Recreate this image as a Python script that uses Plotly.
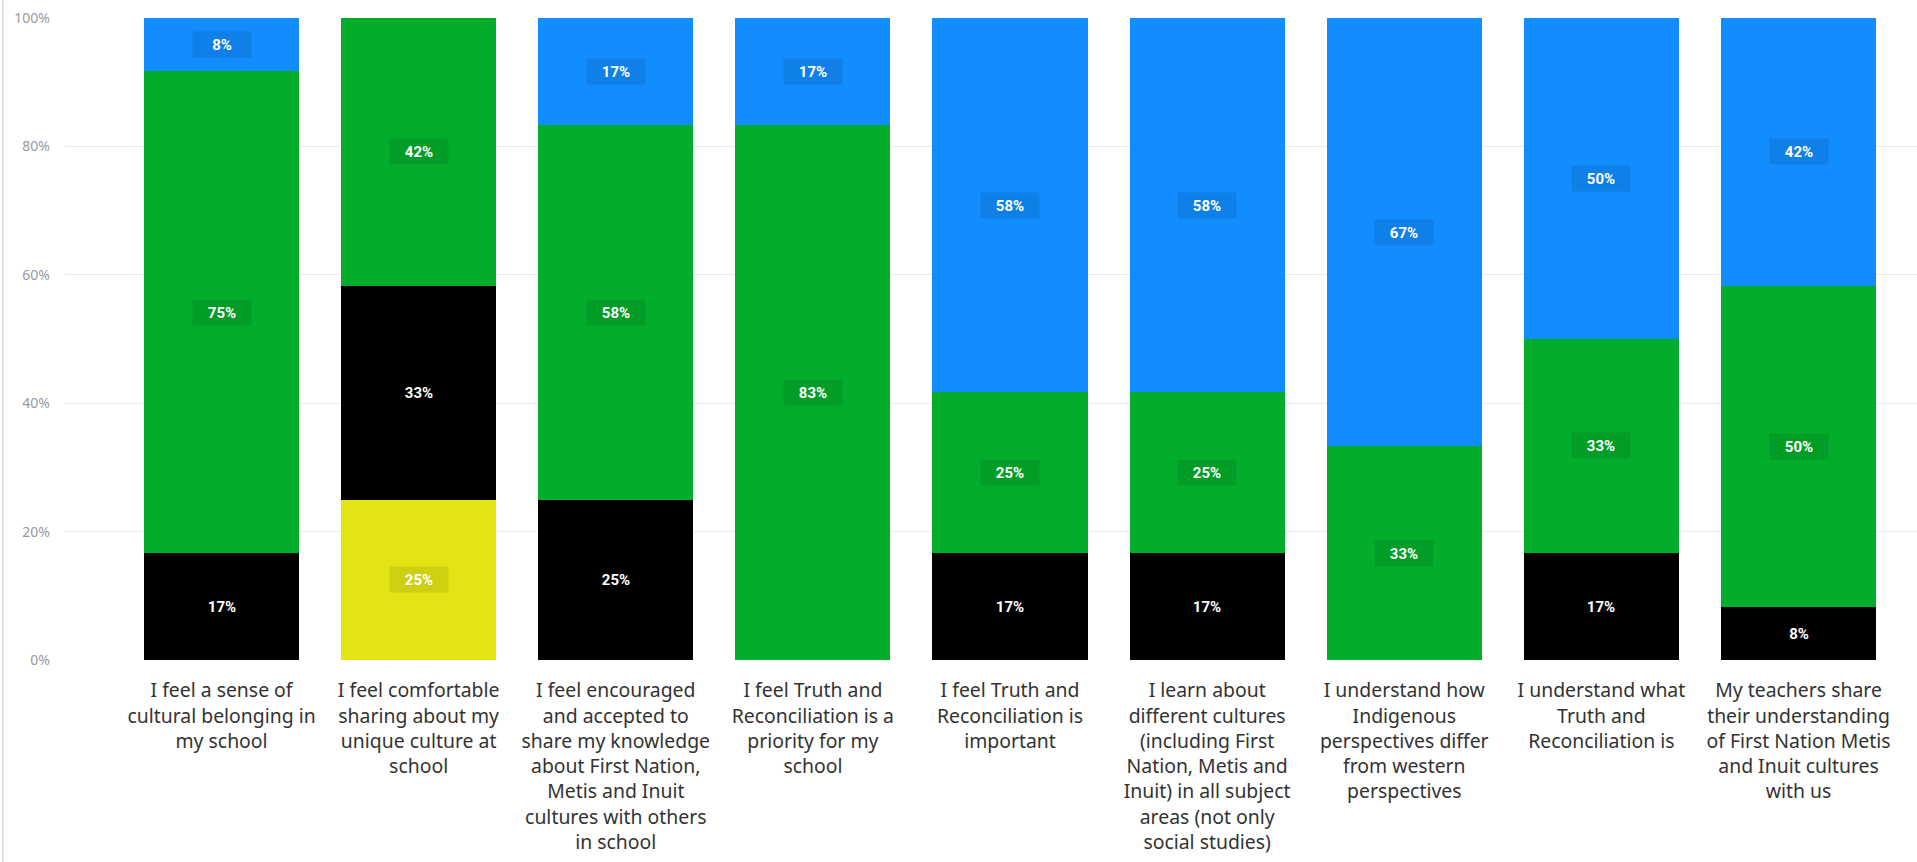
import plotly.graph_objects as go

categories = [
    "I feel a sense of<br>cultural belonging in<br>my school",
    "I feel comfortable<br>sharing about my<br>unique culture at<br>school",
    "I feel encouraged<br>and accepted to<br>share my knowledge<br>about First Nation,<br>Metis and Inuit<br>cultures with others<br>in school",
    "I feel Truth and<br>Reconciliation is a<br>priority for my<br>school",
    "I feel Truth and<br>Reconciliation is<br>important",
    "I learn about<br>different cultures<br>(including First<br>Nation, Metis and<br>Inuit) in all subject<br>areas (not only<br>social studies)",
    "I understand how<br>Indigenous<br>perspectives differ<br>from western<br>perspectives",
    "I understand what<br>Truth and<br>Reconciliation is",
    "My teachers share<br>their understanding<br>of First Nation Metis<br>and Inuit cultures<br>with us",
]

# percentages, bottom to top
yellow_vals = [0, 25.0, 0, 0, 0, 0, 0, 0, 0]
black_vals = [16.67, 33.33, 25.0, 0, 16.67, 16.67, 0, 16.67, 8.33]
green_vals = [75.0, 41.67, 58.33, 83.33, 25.0, 25.0, 33.33, 33.33, 50.0]
blue_vals = [8.33, 0, 16.67, 16.67, 58.33, 58.33, 66.67, 50.0, 41.67]

series_names = ["Strongly disagree", "Disagree", "Agree", "Strongly agree"]
series_vals = [yellow_vals, black_vals, green_vals, blue_vals]
series_colors = ["#E4E414", "#000000", "#02AD2B", "#118DFF"]

y_ticks = [0, 20, 40, 60, 80, 100]

fig = go.Figure()
for name, vals, col in zip(series_names, series_vals, series_colors):
    fig.add_trace(go.Bar(x=categories, y=vals, name=name, marker_color=col,
                         marker_line_width=0, showlegend=False, hoverinfo="skip"))

annotations = []
for i, cat in enumerate(categories):
    base = 0
    for vals in series_vals:
        v = vals[i]
        if v > 0:
            annotations.append(dict(
                x=cat, y=base + v / 2, xref="x", yref="y",
                text=f"<b>{round(v)}%</b>", showarrow=False,
                font=dict(family="Roboto, sans-serif", size=15, color="white"),
                bgcolor="rgba(0,0,0,0.09)", width=54, height=21, borderpad=2,
            ))
        base += v

fig.update_layout(
    barmode="stack",
    bargap=0.213,
    width=1917, height=862,
    margin=dict(l=65, r=0, t=18, b=202, autoexpand=False),
    plot_bgcolor="white", paper_bgcolor="white",
    annotations=annotations,
    xaxis=dict(type="category", range=[-0.794, 8.601], showgrid=False, zeroline=False,
               showline=False, ticks="", tickangle=0, automargin=False,
               tickfont=dict(family="Noto Sans, sans-serif", size=19.4, color="#333333"),
               ticklabelstandoff=17),
    yaxis=dict(range=[0, 100], tickvals=y_ticks, ticktext=[f"{t}%" for t in y_ticks],
               showgrid=True, gridcolor="#EBEBEB", gridwidth=1, zeroline=False,
               automargin=False,
               tickfont=dict(family="Noto Sans, sans-serif", size=14, color="#9A9A9A"),
               ticklabelstandoff=14),
    shapes=[dict(type="line", xref="paper", yref="paper", x0=-0.0335, x1=-0.0335,
                 y0=-0.33, y1=1.03, line=dict(color="#C8C8C8", width=1))],
)

fig.write_html("out.html", config={"displayModeBar": False},
               post_script="document.body.style.margin='0';")
